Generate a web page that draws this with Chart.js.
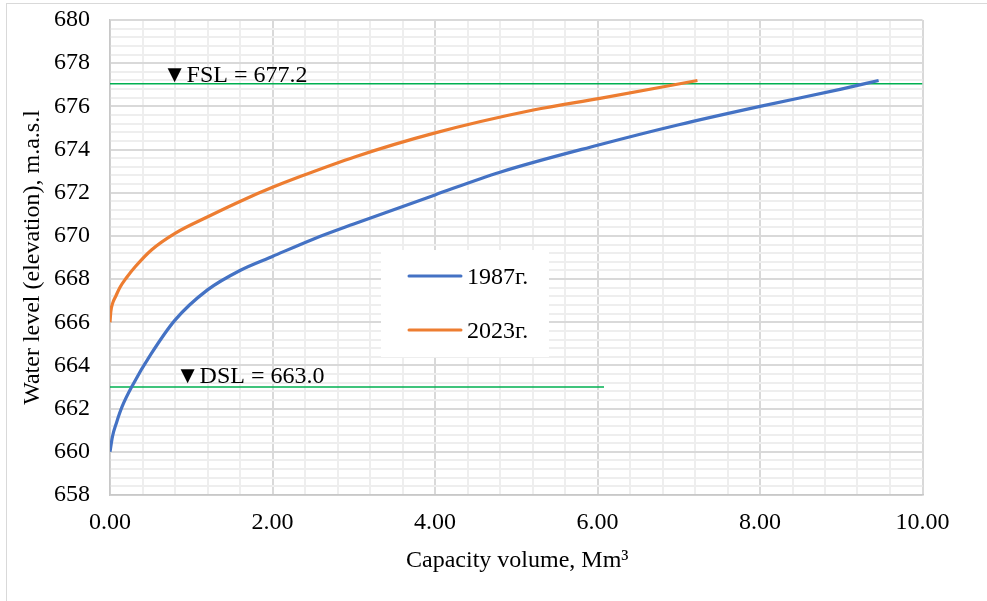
<!DOCTYPE html>
<html>
<head>
<meta charset="utf-8">
<script src="https://cdn.jsdelivr.net/npm/chart.js@4/dist/chart.umd.min.js"></script>
<style>
  html, body { margin: 0; padding: 0; background: #fff; }
  #wrap { position: relative; width: 987px; height: 601px; }
</style>
</head>
<body>
<div id="wrap"><canvas id="curve"></canvas></div>
<script>
// capacity volume (Mm3) vs water level (m.a.s.l)
const vol1987 = [0, 0.03, 0.08, 0.15, 0.28, 0.5, 0.8, 1.2, 1.6, 2.0, 2.5, 3.0, 4.0, 4.8, 6.0, 7.0, 8.0, 9.0, 9.46];
const lev1987 = [660, 660.7, 661.35, 662.1, 663.1, 664.5, 666.1, 667.5, 668.4, 669.05, 669.85, 670.55, 671.9, 672.95, 674.2, 675.15, 676.0, 676.8, 677.2];

const vol2023 = [0, 0.01, 0.03, 0.07, 0.12, 0.2, 0.31, 0.51, 0.8, 1.21, 1.66, 2.0, 2.34, 3.02, 3.98, 5.21, 6.03, 7.23];
const lev2023 = [666, 666.5, 666.85, 667.2, 667.6, 668.05, 668.57, 669.35, 670.12, 670.9, 671.7, 672.25, 672.75, 673.67, 674.75, 675.83, 676.37, 677.2];

const seriesNames = ['1987г.', '2023г.'];

// FSL / DSL reference lines: [x start, x end], level
const fslX = [0, 10];
const fslLevel = 677.05;
const dslX = [0, 6.08];
const dslLevel = 663.0;
const markLabels = ['▼FSL = 677.2', '▼DSL = 663.0'];

const xTitle = 'Capacity volume, Mm³';
const yTitle = 'Water level (elevation), m.a.s.l';

const FONT = '"Liberation Serif", "Times New Roman", serif';

function toPoints(xs, ys) {
	return xs.map((x, i) => ({ x: x, y: ys[i] }));
}

function isMajor(v, base) {
	const r = (v - base) / 2;
	return Math.abs(r - Math.round(r)) < 1e-6;
}

// titles, level labels, legend box and the outer frame
const decorPlugin = {
	id: 'decorPlugin',
	beforeDraw(chart) {
		const ctx = chart.ctx;
		ctx.save();
		ctx.strokeStyle = '#d9d9d9';
		ctx.lineWidth = 1;
		ctx.strokeRect(6.5, 3.5, 1000, 700);
		ctx.restore();
	},
	afterDatasetsDraw(chart) {
		const { ctx, scales: { x, y } } = chart;
		ctx.save();
		ctx.fillStyle = '#000';
		ctx.font = '24px ' + FONT;
		ctx.textAlign = 'left';
		ctx.textBaseline = 'alphabetic';
		ctx.fillText(markLabels[0], x.getPixelForValue(0.65), y.getPixelForValue(fslLevel) - 2);
		ctx.fillText(markLabels[1], x.getPixelForValue(0.81), y.getPixelForValue(dslLevel) - 4);

		// legend
		ctx.fillStyle = '#fff';
		ctx.fillRect(381, 250, 168, 107);
		const rows = [276, 330];
		chart.data.datasets.slice(0, 2).forEach((ds, i) => {
			ctx.strokeStyle = ds.borderColor;
			ctx.lineWidth = 3;
			ctx.lineCap = 'round';
			ctx.beginPath();
			ctx.moveTo(409, rows[i]);
			ctx.lineTo(461, rows[i]);
			ctx.stroke();
			ctx.fillStyle = '#000';
			ctx.textBaseline = 'middle';
			ctx.fillText(ds.label, 467, rows[i] + 2);
		});

		// axis titles
		ctx.textAlign = 'center';
		ctx.textBaseline = 'alphabetic';
		ctx.fillText(xTitle, (x.left + x.right) / 2 + 1, 567);
		ctx.translate(33, (y.top + y.bottom) / 2);
		ctx.rotate(-Math.PI / 2);
		ctx.textBaseline = 'middle';
		ctx.fillText(yTitle, 0, 0);
		ctx.restore();
	}
};

const ctx = document.getElementById('curve').getContext('2d');
new Chart(ctx, {
	type: 'scatter',
	data: {
		datasets: [
			{
				label: seriesNames[0],
				data: toPoints(vol1987, lev1987),
				showLine: true,
				borderColor: '#4472c4',
				borderWidth: 3.2,
				pointRadius: 0,
				cubicInterpolationMode: 'monotone',
				order: 1
			},
			{
				label: seriesNames[1],
				data: toPoints(vol2023, lev2023),
				showLine: true,
				borderColor: '#ed7d31',
				borderWidth: 3.2,
				pointRadius: 0,
				cubicInterpolationMode: 'monotone',
				order: 1
			},
			{
				label: 'FSL',
				data: toPoints(fslX, [fslLevel, fslLevel]),
				showLine: true,
				borderColor: '#00b050',
				borderWidth: 1.5,
				pointRadius: 0,
				order: 2
			},
			{
				label: 'DSL',
				data: toPoints(dslX, [dslLevel, dslLevel]),
				showLine: true,
				borderColor: '#00b050',
				borderWidth: 1.5,
				pointRadius: 0,
				order: 2
			}
		]
	},
	options: {
		responsive: true,
		maintainAspectRatio: false,
		animation: false,
		layout: { padding: { left: 0, top: 20, right: 64.5, bottom: 0 } },
		plugins: {
			legend: { display: false },
			tooltip: { enabled: false }
		},
		scales: {
			x: {
				type: 'linear',
				min: 0,
				max: 10,
				afterFit(scale) {
					scale.height = 106;
					scale.paddingLeft = 0;
					scale.paddingRight = 0;
				},
				border: { color: '#c8c8c8', width: 1.5 },
				grid: {
					drawTicks: false,
					lineWidth: 2,
					color: (c) => (c.tick && isMajor(c.tick.value, 0)) ? '#d9d9d9' : '#eeeeee'
				},
				ticks: {
					stepSize: 0.4,
					autoSkip: false,
					maxRotation: 0,
					padding: 13,
					color: '#000',
					font: { family: FONT, size: 24 },
					callback: (v) => isMajor(v, 0) ? Number(v).toFixed(2) : ''
				}
			},
			y: {
				type: 'linear',
				min: 658,
				max: 680,
				afterFit(scale) {
					scale.width = 110;
					scale.paddingTop = 0;
					scale.paddingBottom = 0;
				},
				border: { color: '#c8c8c8', width: 1.5 },
				grid: {
					drawTicks: false,
					lineWidth: 2,
					color: (c) => (c.tick && isMajor(c.tick.value, 658)) ? '#d9d9d9' : '#eeeeee'
				},
				ticks: {
					stepSize: 0.4,
					autoSkip: false,
					padding: 20,
					color: '#000',
					font: { family: FONT, size: 24 },
					callback: (v) => isMajor(v, 658) ? String(Math.round(v)) : ''
				}
			}
		}
	},
	plugins: [decorPlugin]
});
</script>
</body>
</html>
